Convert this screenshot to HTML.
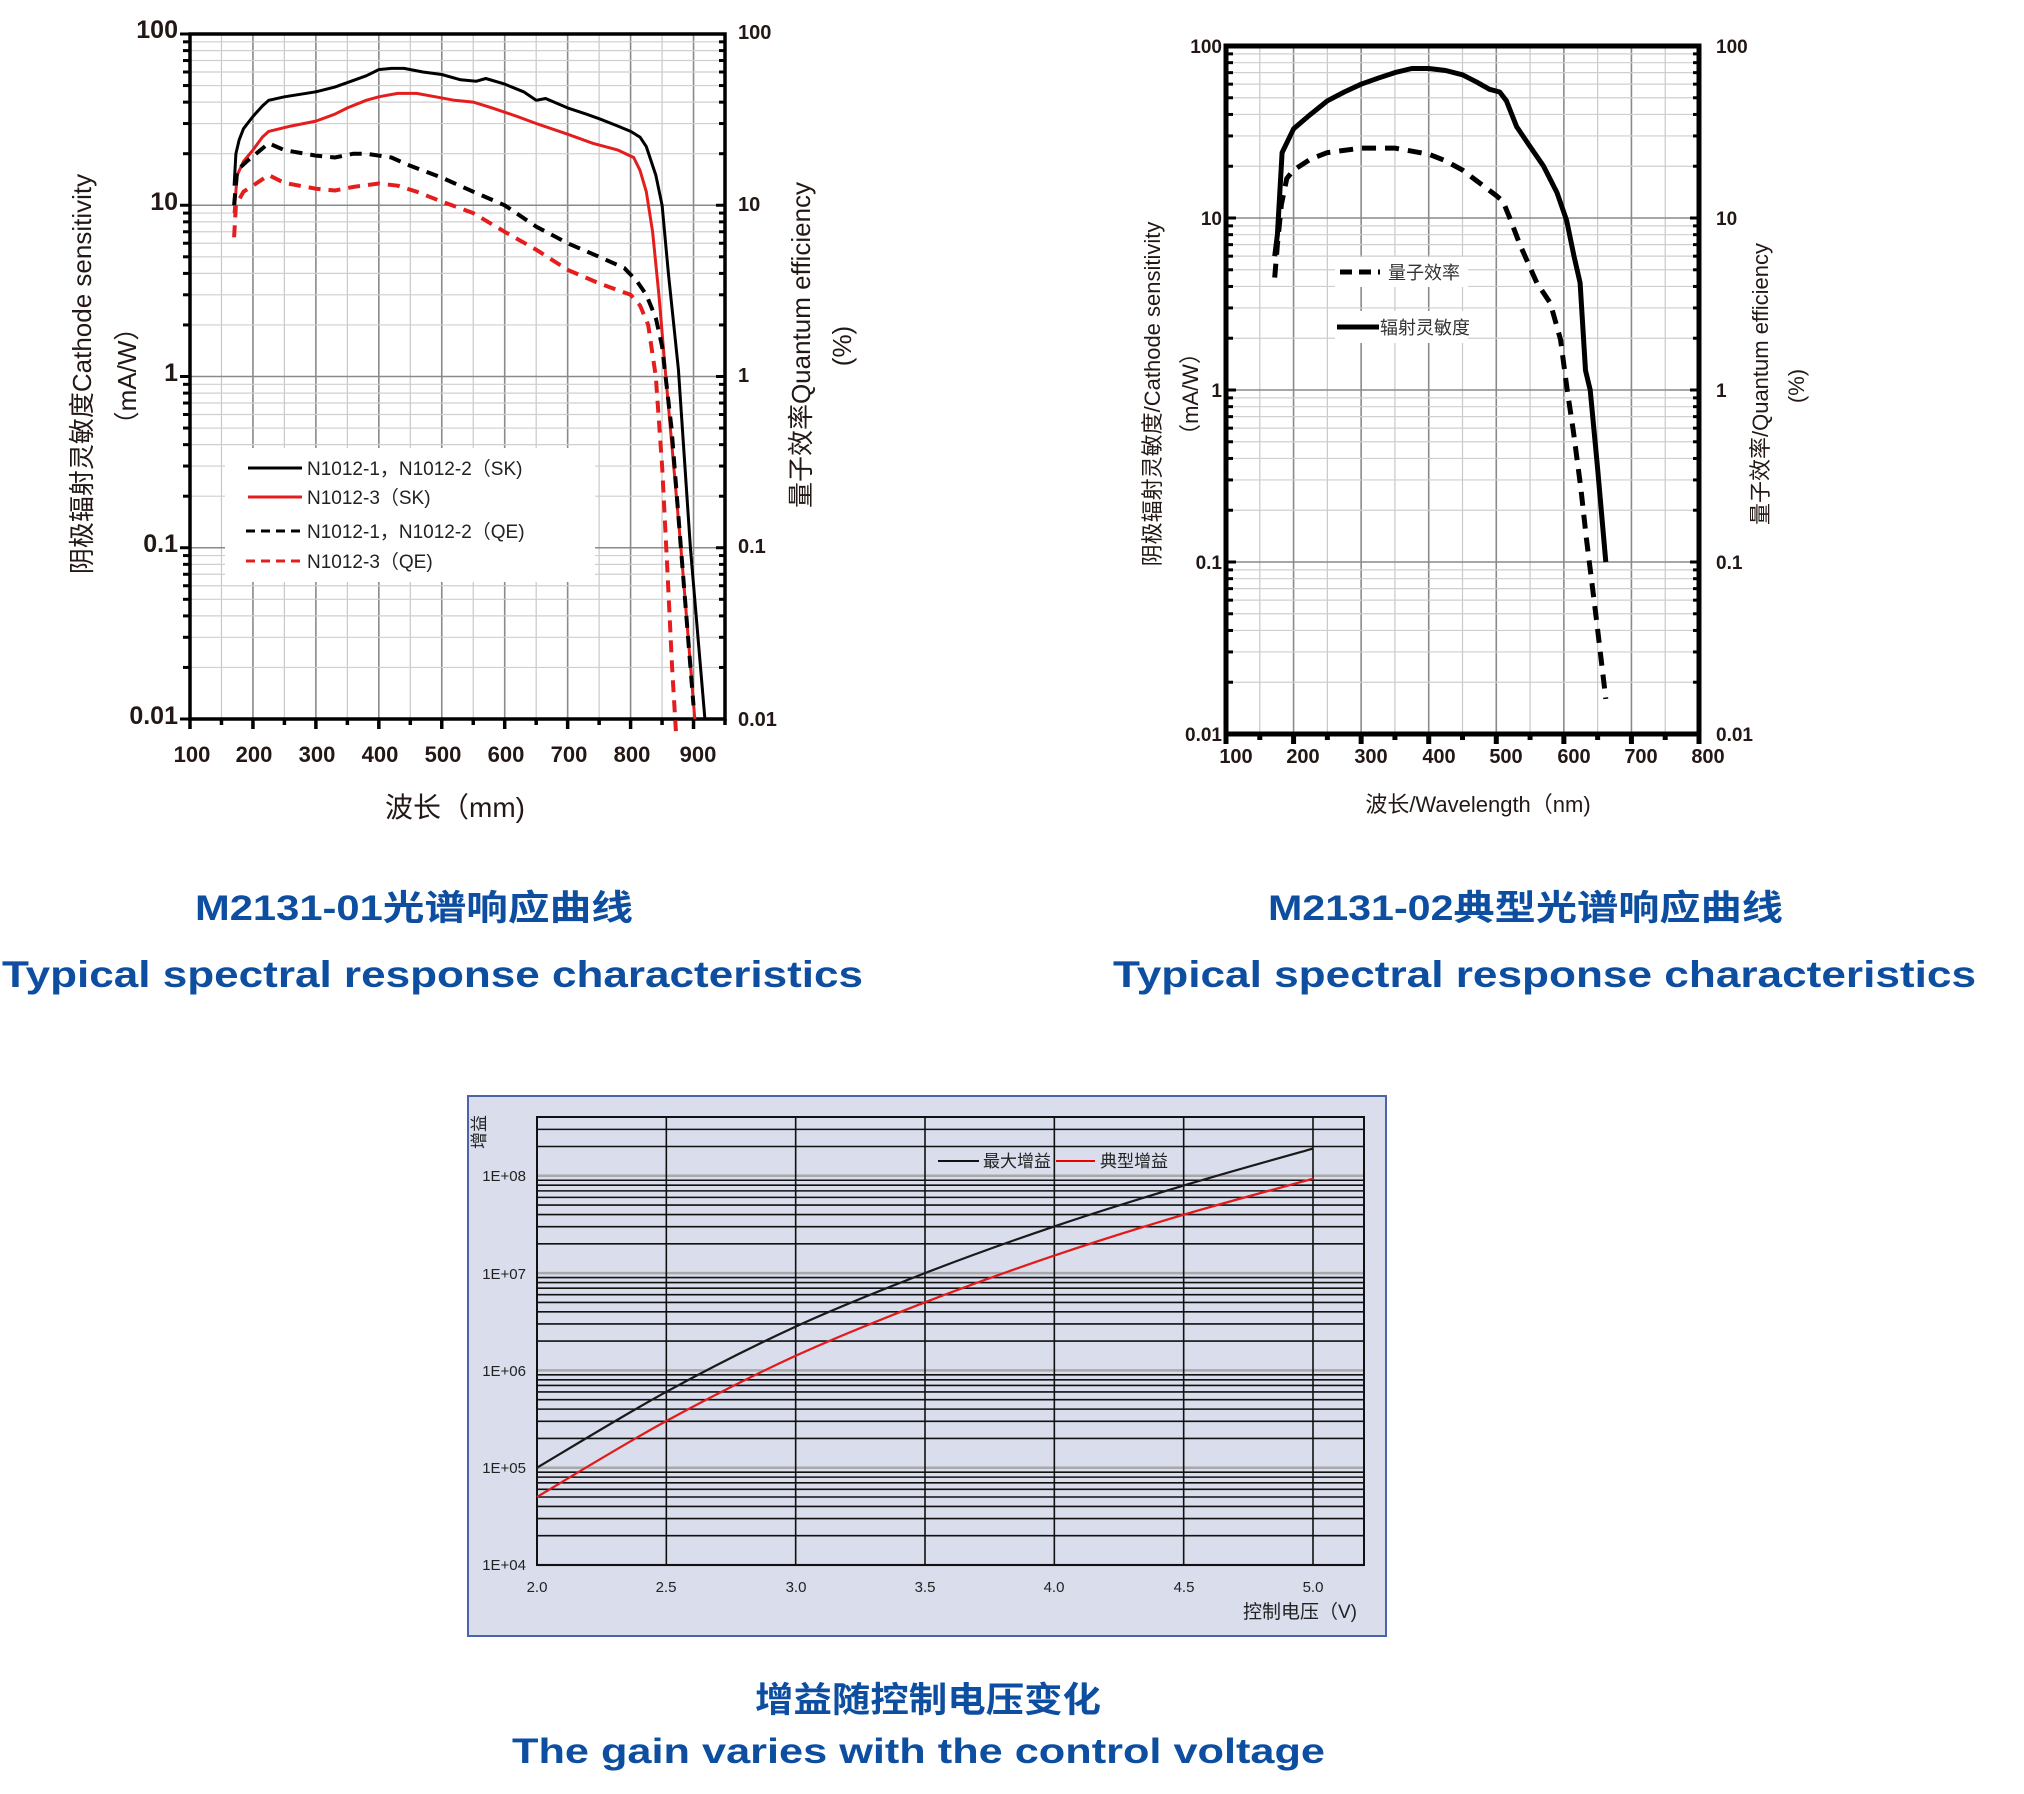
<!DOCTYPE html>
<html><head><meta charset="utf-8"><style>
html,body{margin:0;padding:0;background:#fff;}
svg{display:block;}
text{font-family:"Liberation Sans","Noto Sans CJK SC",sans-serif;}
</style></head><body>
<svg id="s" xmlns="http://www.w3.org/2000/svg" width="2024" height="1794" viewBox="0 0 2024 1794">
<g id="g1grid"></g><g id="g2grid"></g>
<rect x="468" y="1096" width="918" height="540" fill="#d9ddec" stroke="#4a63aa" stroke-width="2"/>
<g id="g3grid"></g>
<g id="curves"></g>

<!-- Chart 1 legend -->
<rect x="225" y="448" width="370" height="134" fill="#fff"/>
<g stroke-width="3" fill="none">
<line x1="248" y1="468" x2="302" y2="468" stroke="#000"/>
<line x1="248" y1="497" x2="302" y2="497" stroke="#e41e1e"/>
<line x1="246" y1="531" x2="302" y2="531" stroke="#000" stroke-dasharray="9,6"/>
<line x1="246" y1="561" x2="302" y2="561" stroke="#e41e1e" stroke-dasharray="9,6"/>
</g>
<g font-size="19" fill="#222">
<text x="307" y="475">N1012-1，N1012-2（SK)</text>
<text x="307" y="504">N1012-3（SK)</text>
<text x="307" y="538">N1012-1，N1012-2（QE)</text>
<text x="307" y="568">N1012-3（QE)</text>
</g>

<!-- Chart 1 labels -->
<g font-size="25" font-weight="bold" fill="#231815" text-anchor="end">
<text x="178" y="38">100</text><text x="178" y="210">10</text><text x="178" y="381">1</text><text x="178" y="552">0.1</text><text x="178" y="724">0.01</text>
</g>
<g font-size="20" font-weight="bold" fill="#231815">
<text x="738" y="39">100</text><text x="738" y="211">10</text><text x="738" y="382">1</text><text x="738" y="553">0.1</text><text x="738" y="726">0.01</text>
</g>
<g font-size="22" font-weight="bold" fill="#231815" text-anchor="middle">
<text x="192" y="762">100</text><text x="254" y="762">200</text><text x="317" y="762">300</text><text x="380" y="762">400</text><text x="443" y="762">500</text><text x="506" y="762">600</text><text x="569" y="762">700</text><text x="632" y="762">800</text><text x="698" y="762">900</text>
</g>
<text x="455" y="817" font-size="28" fill="#231815" text-anchor="middle">波长（mm)</text>
<text transform="translate(91,374) rotate(-90)" font-size="26" fill="#231815" text-anchor="middle">阴极辐射灵敏度Cathode sensitivity</text>
<text transform="translate(136,376) rotate(-90)" font-size="26" fill="#231815" text-anchor="middle">（mA/W）</text>
<text transform="translate(810,345) rotate(-90)" font-size="26" fill="#231815" text-anchor="middle">量子效率Quantum efficiency</text>
<text transform="translate(851,346) rotate(-90)" font-size="26" fill="#231815" text-anchor="middle">(%)</text>

<!-- Chart 2 legend -->
<rect x="1335" y="257" width="133" height="30" fill="#fff"/>
<rect x="1335" y="311" width="133" height="32" fill="#fff"/>
<line x1="1340" y1="272" x2="1380" y2="272" stroke="#000" stroke-width="5" stroke-dasharray="12,7"/>
<line x1="1337" y1="327" x2="1379" y2="327" stroke="#000" stroke-width="5"/>
<text x="1388" y="279" font-size="18" fill="#333">量子效率</text>
<text x="1380" y="334" font-size="18" fill="#333">辐射灵敏度</text>

<!-- Chart 2 labels -->
<g font-size="19" font-weight="bold" fill="#231815" text-anchor="end">
<text x="1222" y="53">100</text><text x="1222" y="225">10</text><text x="1222" y="397">1</text><text x="1222" y="569">0.1</text><text x="1222" y="741">0.01</text>
</g>
<g font-size="19" font-weight="bold" fill="#231815">
<text x="1716" y="53">100</text><text x="1716" y="225">10</text><text x="1716" y="397">1</text><text x="1716" y="569">0.1</text><text x="1716" y="741">0.01</text>
</g>
<g font-size="20" font-weight="bold" fill="#231815" text-anchor="middle">
<text x="1236" y="763">100</text><text x="1303" y="763">200</text><text x="1371" y="763">300</text><text x="1439" y="763">400</text><text x="1506" y="763">500</text><text x="1574" y="763">600</text><text x="1641" y="763">700</text><text x="1708" y="763">800</text>
</g>
<text x="1478" y="812" font-size="22" fill="#231815" text-anchor="middle">波长/Wavelength（nm)</text>
<text transform="translate(1160,394) rotate(-90)" font-size="22" fill="#231815" text-anchor="middle">阴极辐射灵敏度/Cathode sensitivity</text>
<text transform="translate(1198,394) rotate(-90)" font-size="22" fill="#231815" text-anchor="middle">（mA/W）</text>
<text transform="translate(1768,384) rotate(-90)" font-size="22" fill="#231815" text-anchor="middle">量子效率/Quantum efficiency</text>
<text transform="translate(1804,386) rotate(-90)" font-size="22" fill="#231815" text-anchor="middle">(%)</text>

<!-- Gain chart labels -->
<g font-size="15" fill="#222" text-anchor="end">
<text x="526" y="1181">1E+08</text><text x="526" y="1279">1E+07</text><text x="526" y="1376">1E+06</text><text x="526" y="1473">1E+05</text><text x="526" y="1570">1E+04</text>
</g>
<g font-size="15" fill="#222" text-anchor="middle">
<text x="537" y="1592">2.0</text><text x="666" y="1592">2.5</text><text x="796" y="1592">3.0</text><text x="925" y="1592">3.5</text><text x="1054" y="1592">4.0</text><text x="1184" y="1592">4.5</text><text x="1313" y="1592">5.0</text>
</g>
<text x="1357" y="1618" font-size="19" fill="#222" text-anchor="end">控制电压（V)</text>
<text transform="translate(485,1132) rotate(-90)" font-size="17" fill="#222" text-anchor="middle">增益</text>
<line x1="938" y1="1161" x2="979" y2="1161" stroke="#111" stroke-width="2"/>
<line x1="1056" y1="1161" x2="1095" y2="1161" stroke="#e00" stroke-width="2"/>
<text x="983" y="1167" font-size="17" fill="#222">最大增益</text>
<text x="1100" y="1167" font-size="17" fill="#222">典型增益</text>

<!-- Titles -->
<g fill="#0d4ea0" font-weight="bold">
<text x="195" y="920" font-size="35" textLength="438" lengthAdjust="spacingAndGlyphs">M2131-01光谱响应曲线</text>
<text x="2" y="987" font-size="37" textLength="861" lengthAdjust="spacingAndGlyphs">Typical spectral response characteristics</text>
<text x="1268" y="920" font-size="35" textLength="515" lengthAdjust="spacingAndGlyphs">M2131-02典型光谱响应曲线</text>
<text x="1113" y="987" font-size="37" textLength="863" lengthAdjust="spacingAndGlyphs">Typical spectral response characteristics</text>
<text x="755" y="1712" font-size="35" textLength="346" lengthAdjust="spacingAndGlyphs">增益随控制电压变化</text>
<text x="512" y="1763" font-size="35" textLength="813" lengthAdjust="spacingAndGlyphs">The gain varies with the control voltage</text>
</g>
</svg>
<script>
var NS="http://www.w3.org/2000/svg";
function el(p,t,a){var e=document.createElementNS(NS,t);for(var k in a)e.setAttribute(k,a[k]);p.appendChild(e);return e;}
function spectral(gid,c){
  var g=document.getElementById(gid);
  var X=function(nm){return c.x0+(nm-100)*(c.x1-c.x0)/(c.nmMax-100);};
  var Y=function(v){return c.y1-(Math.log10(v)+2)*(c.y1-c.y0)/4;};
  c.X=X;c.Y=Y;
  var sl=c.lin?-1:1, sr=c.rin?-1:1;
  for(var nm=150;nm<c.nmMax;nm+=50){var maj=nm%100==0;
    el(g,'line',{x1:X(nm),y1:c.y0,x2:X(nm),y2:c.y1,stroke:maj?'#8a8a8a':'#c8c8c8','stroke-width':maj?1.6:1.2});}
  for(var d=-2;d<2;d++)for(var m=1;m<10;m++){var v=m*Math.pow(10,d);
    el(g,'line',{x1:c.x0,y1:Y(v),x2:c.x1,y2:Y(v),stroke:m==1?'#8a8a8a':'#cfcfcf','stroke-width':m==1?1.6:1.2});
    if(m>1){el(g,'line',{x1:c.x0-7*sl,y1:Y(v),x2:c.x0,y2:Y(v),stroke:'#000','stroke-width':3});
      el(g,'line',{x1:c.x1,y1:Y(v),x2:c.x1+6*sr,y2:Y(v),stroke:'#000','stroke-width':3});}}
  for(var d=-2;d<=2;d++){el(g,'line',{x1:c.x0-10*sl,y1:Y(Math.pow(10,d)),x2:c.x0,y2:Y(Math.pow(10,d)),stroke:'#000','stroke-width':3});
    el(g,'line',{x1:c.x1,y1:Y(Math.pow(10,d)),x2:c.x1+9*sr,y2:Y(Math.pow(10,d)),stroke:'#000','stroke-width':3});}
  for(var nm=100;nm<=c.nmMax;nm+=50){el(g,'line',{x1:X(nm),y1:c.y1,x2:X(nm),y2:c.y1+(nm%100?6:10),stroke:'#000','stroke-width':c.lw});}
  el(g,'rect',{x:c.x0,y:c.y0,width:c.x1-c.x0,height:c.y1-c.y0,fill:'none',stroke:'#000','stroke-width':c.lw});
}
var c1={x0:190,x1:725,y0:34,y1:719,nmMax:950,lw:3.5,rin:true};
var c2={x0:1226,x1:1699,y0:46,y1:734,nmMax:800,lw:5,lin:true,rin:true};
spectral('g1grid',c1);spectral('g2grid',c2);
var cv=document.getElementById('curves');
function poly(c,pts,col,w,dash){var s='';pts.forEach(function(p){s+=c.X(p[0]).toFixed(1)+','+c.Y(p[1]).toFixed(1)+' ';});
  var a={points:s,fill:'none',stroke:col,'stroke-width':w,'stroke-linejoin':'round'};if(dash)a['stroke-dasharray']=dash;el(cv,'polyline',a);}
poly(c1,[[170,13],[173,20],[178,24],[185,28],[200,33],[215,38],[225,41],[250,43],[300,46],[330,49],[350,52],[380,57],[400,62],[420,63],[440,63],[470,60],[500,58],[530,54],[555,53],[570,55],[600,51],[630,46],[650,41],[665,42],[700,37],[730,34],[750,32],[780,29],[800,27],[815,25],[825,22],[840,15],[850,10],[860,4],[876,1.1],[895,0.1],[918,0.01]],'#000',3);
poly(c1,[[170,9],[175,15],[185,18],[200,21],[215,25],[225,27],[260,29],[300,31],[330,34],[350,37],[380,41],[400,43],[430,45],[460,45],[490,43],[520,41],[550,40],[580,37],[620,33],[650,30],[700,26],[740,23],[780,21],[805,19],[815,16],[825,12],[835,7],[845,3],[855,1.1],[880,0.1],[902,0.01]],'#e41e1e',3);
poly(c1,[[170,10],[175,16],[190,18],[205,20],[225,23],[250,21],[300,19.5],[330,19],[360,20],[380,20],[420,19],[450,17],[500,14.5],[550,12],[600,10],[650,7.5],[700,6],[750,5],[790,4.3],[810,3.6],[825,3],[840,2.2],[850,1.5],[865,0.5],[880,0.1],[900,0.012]],'#000',4,'12,8');
poly(c1,[[170,6.5],[173,10],[185,12],[200,13],[225,15],[250,13.5],[300,12.5],[330,12.2],[360,12.8],[400,13.4],[430,13],[460,12],[500,10.5],[550,9],[600,7],[650,5.5],[700,4.2],[750,3.5],[800,3],[815,2.6],[828,2],[840,1],[850,0.3],[858,0.08],[866,0.02],[872,0.0085]],'#e41e1e',4,'12,8');
poly(c2,[[172,6],[176,8],[183,24],[200,33],[225,40],[250,48],[275,54],[300,60],[325,65],[350,70],[375,74],[400,74],[425,72],[450,68],[470,62],[490,56],[505,54],[515,48],[530,34],[550,26],[570,20],[590,14],[604,9.7],[615,6],[624,4.2],[632,1.3],[639,1],[650,0.35],[662,0.1]],'#000',5);
poly(c2,[[172,4.5],[176,7],[182,12],[190,17],[200,19],[225,22],[250,24],[300,25.5],[350,25.5],[400,23.5],[425,21.5],[450,19],[475,16],[500,13.5],[510,12.5],[520,10],[535,7],[560,4.2],[580,3.2],[595,1.97],[605,1],[614,0.58],[625,0.27],[633,0.14],[648,0.047],[662,0.016]],'#000',5,'14,9');
var g3=document.getElementById('g3grid');
var gx0=537,gx1=1364,gy0=1117,gy1=1565,dec=97.3;
var GX=function(v){return gx0+(v-2)*(1313-537)/3;};
var GY=function(v){return 1565-(Math.log10(v)-4)*dec;};
for(var d=4;d<=8;d++)for(var m=1;m<10;m++){var v=m*Math.pow(10,d);var y=GY(v);if(y<gy0-1)continue;
  el(g3,'line',{x1:gx0,y1:y,x2:gx1,y2:y,stroke:m==1?'#a9a9a9':'#111','stroke-width':m==1?2.5:1.6});}
for(var v=2;v<=5.01;v+=0.5)el(g3,'line',{x1:GX(v),y1:gy0,x2:GX(v),y2:gy1,stroke:'#111','stroke-width':1.6});
el(g3,'rect',{x:gx0,y:gy0,width:gx1-gx0,height:gy1-gy0,fill:'none',stroke:'#111','stroke-width':2});
function smooth(pts,col){var P=pts.map(function(p){return [GX(p[0]),1565-(p[1]-4)*dec];});var s='M'+P[0][0]+','+P[0][1];
  for(var i=0;i<P.length-1;i++){var p0=P[Math.max(0,i-1)],p1=P[i],p2=P[i+1],p3=P[Math.min(P.length-1,i+2)];
    s+=' C'+(p1[0]+(p2[0]-p0[0])/6)+','+(p1[1]+(p2[1]-p0[1])/6)+' '+(p2[0]-(p3[0]-p1[0])/6)+','+(p2[1]-(p3[1]-p1[1])/6)+' '+p2[0]+','+p2[1];}
  el(cv,'path',{d:s,fill:'none',stroke:col,'stroke-width':2.2});}
smooth([[2,5],[2.5,5.78],[3,6.45],[3.5,7.0],[4,7.48],[4.5,7.9],[5,8.28]],'#1a1a1a');
smooth([[2,4.7],[2.5,5.48],[3,6.15],[3.5,6.7],[4,7.18],[4.5,7.6],[5,7.97]],'#e21a1a');
</script>
</body></html>
